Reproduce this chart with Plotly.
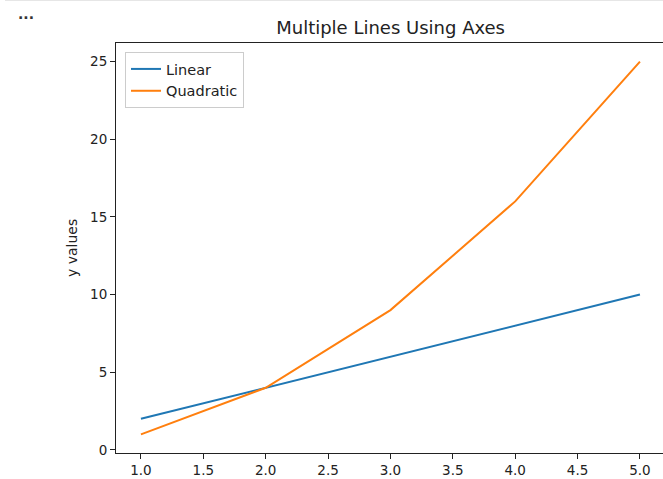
import plotly.graph_objects as go

# Data
x_vals = [1, 2, 3, 4, 5]
linear = [2, 4, 6, 8, 10]
quadratic = [1, 4, 9, 16, 25]
x_ticks = [1.0, 1.5, 2.0, 2.5, 3.0, 3.5, 4.0, 4.5, 5.0]
y_ticks = [0, 5, 10, 15, 20, 25]

W, H = 663, 479
L, R, T, B = 116, 0, 43, 26
plot_w = W - L - R
plot_h = H - T - B

FONT = "DejaVu Sans"
BLUE = "#1f77b4"
ORANGE = "#ff7f0e"


def px_x(p):
    return (p - L) / plot_w


def px_y(p):
    return (H - B - p) / plot_h


fig = go.Figure()
fig.add_trace(go.Scatter(x=x_vals, y=linear, mode="lines", name="Linear",
                         line=dict(color=BLUE, width=2)))
fig.add_trace(go.Scatter(x=x_vals, y=quadratic, mode="lines", name="Quadratic",
                         line=dict(color=ORANGE, width=2)))

axis_common = dict(
    showgrid=False, zeroline=False, showline=True, linecolor="#222",
    linewidth=1, ticks="outside", ticklen=5, tickwidth=1, tickcolor="#222",
    tickfont=dict(family=FONT, size=13.5, color="#222"),
)

fig.update_xaxes(range=[0.8, 0.8 + plot_w / 124.75], tickvals=x_ticks,
                 ticktext=[f"{v:.1f}" for v in x_ticks], mirror=True,
                 **axis_common)
fig.update_yaxes(range=[-0.2, 26.2], tickvals=y_ticks, mirror=False,
                 **axis_common)

fig.update_layout(
    width=W, height=H,
    margin=dict(l=L, r=R, t=T, b=B, pad=0),
    paper_bgcolor="white", plot_bgcolor="white",
    font=dict(family=FONT, color="#222"),
    title=dict(text="Multiple Lines Using Axes", xref="paper", x=0.502,
               xanchor="center", yref="container", y=1 - 28 / H,
               yanchor="middle", font=dict(family=FONT, size=18, color="#222")),
    showlegend=True,
    legend=dict(x=px_x(125), y=px_y(52), xanchor="left", yanchor="top",
                bgcolor="rgba(255,255,255,0.8)", bordercolor="#cccccc",
                borderwidth=1, font=dict(family=FONT, size=14.5, color="#222"),
                tracegroupgap=0),
    annotations=[
        dict(text="y values", textangle=-90, xref="paper", yref="paper",
             x=px_x(72), y=0.5, xanchor="center", yanchor="middle",
             showarrow=False, font=dict(family=FONT, size=14, color="#222")),
        dict(text="<b>...</b>", xref="paper", yref="paper",
             x=px_x(25.5), y=px_y(14), xanchor="center", yanchor="middle",
             showarrow=False, font=dict(family=FONT, size=14, color="#333")),
    ],
    shapes=[
        dict(type="line", xref="paper", yref="paper", x0=px_x(5), x1=1.0,
             y0=px_y(0.5), y1=px_y(0.5), line=dict(color="#e6e6e6", width=1)),
    ],
)

fig.write_html("out.html")
